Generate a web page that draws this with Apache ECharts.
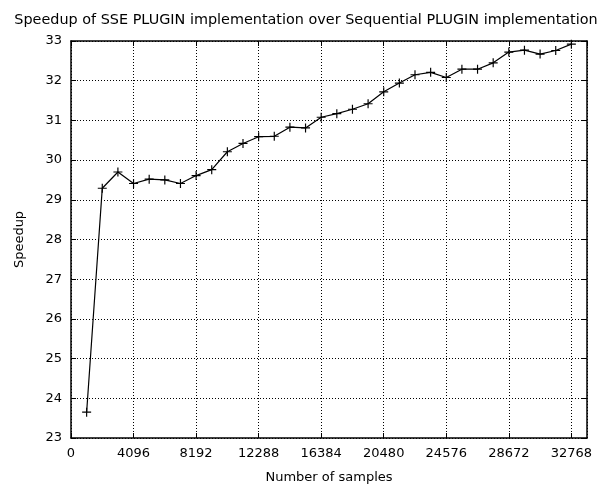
<!DOCTYPE html>
<html>
<head>
<meta charset="utf-8">
<script src="https://cdn.jsdelivr.net/npm/echarts@6/dist/echarts.min.js"></script>
<style>
  html, body { margin: 0; padding: 0; background: #fff; }
  #chart { width: 612px; height: 489px; }
</style>
</head>
<body>
<div id="chart"></div>
<script>
// 样本数（每 1024 一个点）
const samples = [
  1024, 2048, 3072, 4096, 5120, 6144, 7168, 8192,
  9216, 10240, 11264, 12288, 13312, 14336, 15360, 16384,
  17408, 18432, 19456, 20480, 21504, 22528, 23552, 24576,
  25600, 26624, 27648, 28672, 29696, 30720, 31744, 32768
];
// 加速比
const speedup = [
  23.65, 29.29, 29.70, 29.41, 29.52, 29.50, 29.41, 29.61,
  29.76, 30.21, 30.42, 30.59, 30.60, 30.83, 30.81, 31.08,
  31.17, 31.28, 31.42, 31.72, 31.94, 32.15, 32.21, 32.08,
  32.29, 32.29, 32.45, 32.72, 32.77, 32.67, 32.76, 32.92
];
const xTicks = [0, 4096, 8192, 12288, 16384, 20480, 24576, 28672, 32768];
const yTicks = [23, 24, 25, 26, 27, 28, 29, 30, 31, 32, 33];

const font = 'DejaVu Sans';
const fontSize = 13;

// 加号形状的标记
const plusSymbol = 'path://M0,4.35H4.35V0H5.65V4.35H10V5.65H5.65V10H4.35V5.65H0Z';

const myChart = echarts.init(document.getElementById('chart'));

const dotted = { show: true, lineStyle: { color: '#000', width: 1, type: [1, 2] } };
const frame = { show: true, onZero: false, lineStyle: { color: '#000', width: 1.5 } };
const innerTick = { show: true, inside: true, length: 5, lineStyle: { color: '#000', width: 1 } };

const options = {
  animation: false,
  backgroundColor: '#fff',
  title: {
    text: 'Speedup of SSE PLUGIN implementation over Sequential PLUGIN implementation',
    left: 'center',
    top: 8,
    textStyle: { fontFamily: font, fontSize: 14.4, fontWeight: 'normal', color: '#000' }
  },
  grid: { left: 71, right: 25, top: 41, bottom: 50 },
  xAxis: [
    {
      type: 'value',
      min: 0,
      max: 33792,
      interval: 4096,
      name: 'Number of samples',
      nameLocation: 'middle',
      nameGap: 33,
      nameTextStyle: { fontFamily: font, fontSize: fontSize, color: '#000' },
      axisLine: frame,
      axisTick: innerTick,
      axisLabel: {
        margin: 9,
        fontFamily: font, fontSize: fontSize, color: '#000',
        showMaxLabel: false,
        formatter: (v) => (xTicks.includes(v) ? String(v) : '')
      },
      splitLine: dotted
    },
    {
      type: 'value',
      position: 'top',
      min: 0,
      max: 33792,
      interval: 4096,
      axisLine: frame,
      axisTick: innerTick,
      axisLabel: { show: false },
      splitLine: { show: false }
    }
  ],
  yAxis: [
    {
      type: 'value',
      min: yTicks[0],
      max: yTicks[yTicks.length - 1],
      interval: 1,
      name: 'Speedup',
      nameLocation: 'middle',
      nameGap: 45,
      nameTextStyle: { fontFamily: font, fontSize: fontSize, color: '#000' },
      axisLine: frame,
      axisTick: innerTick,
      axisLabel: { margin: 9, fontFamily: font, fontSize: fontSize, color: '#000' },
      splitLine: dotted
    },
    {
      type: 'value',
      position: 'right',
      min: yTicks[0],
      max: yTicks[yTicks.length - 1],
      interval: 1,
      axisLine: frame,
      axisTick: innerTick,
      axisLabel: { show: false },
      splitLine: { show: false }
    }
  ],
  series: [
    {
      type: 'line',
      data: samples.map((s, i) => [s, speedup[i]]),
      symbol: plusSymbol,
      symbolSize: 9,
      showAllSymbol: true,
      itemStyle: { color: '#000' },
      lineStyle: { color: '#000', width: 1.2 }
    }
  ]
};

myChart.setOption(options);
</script>
</body>
</html>
